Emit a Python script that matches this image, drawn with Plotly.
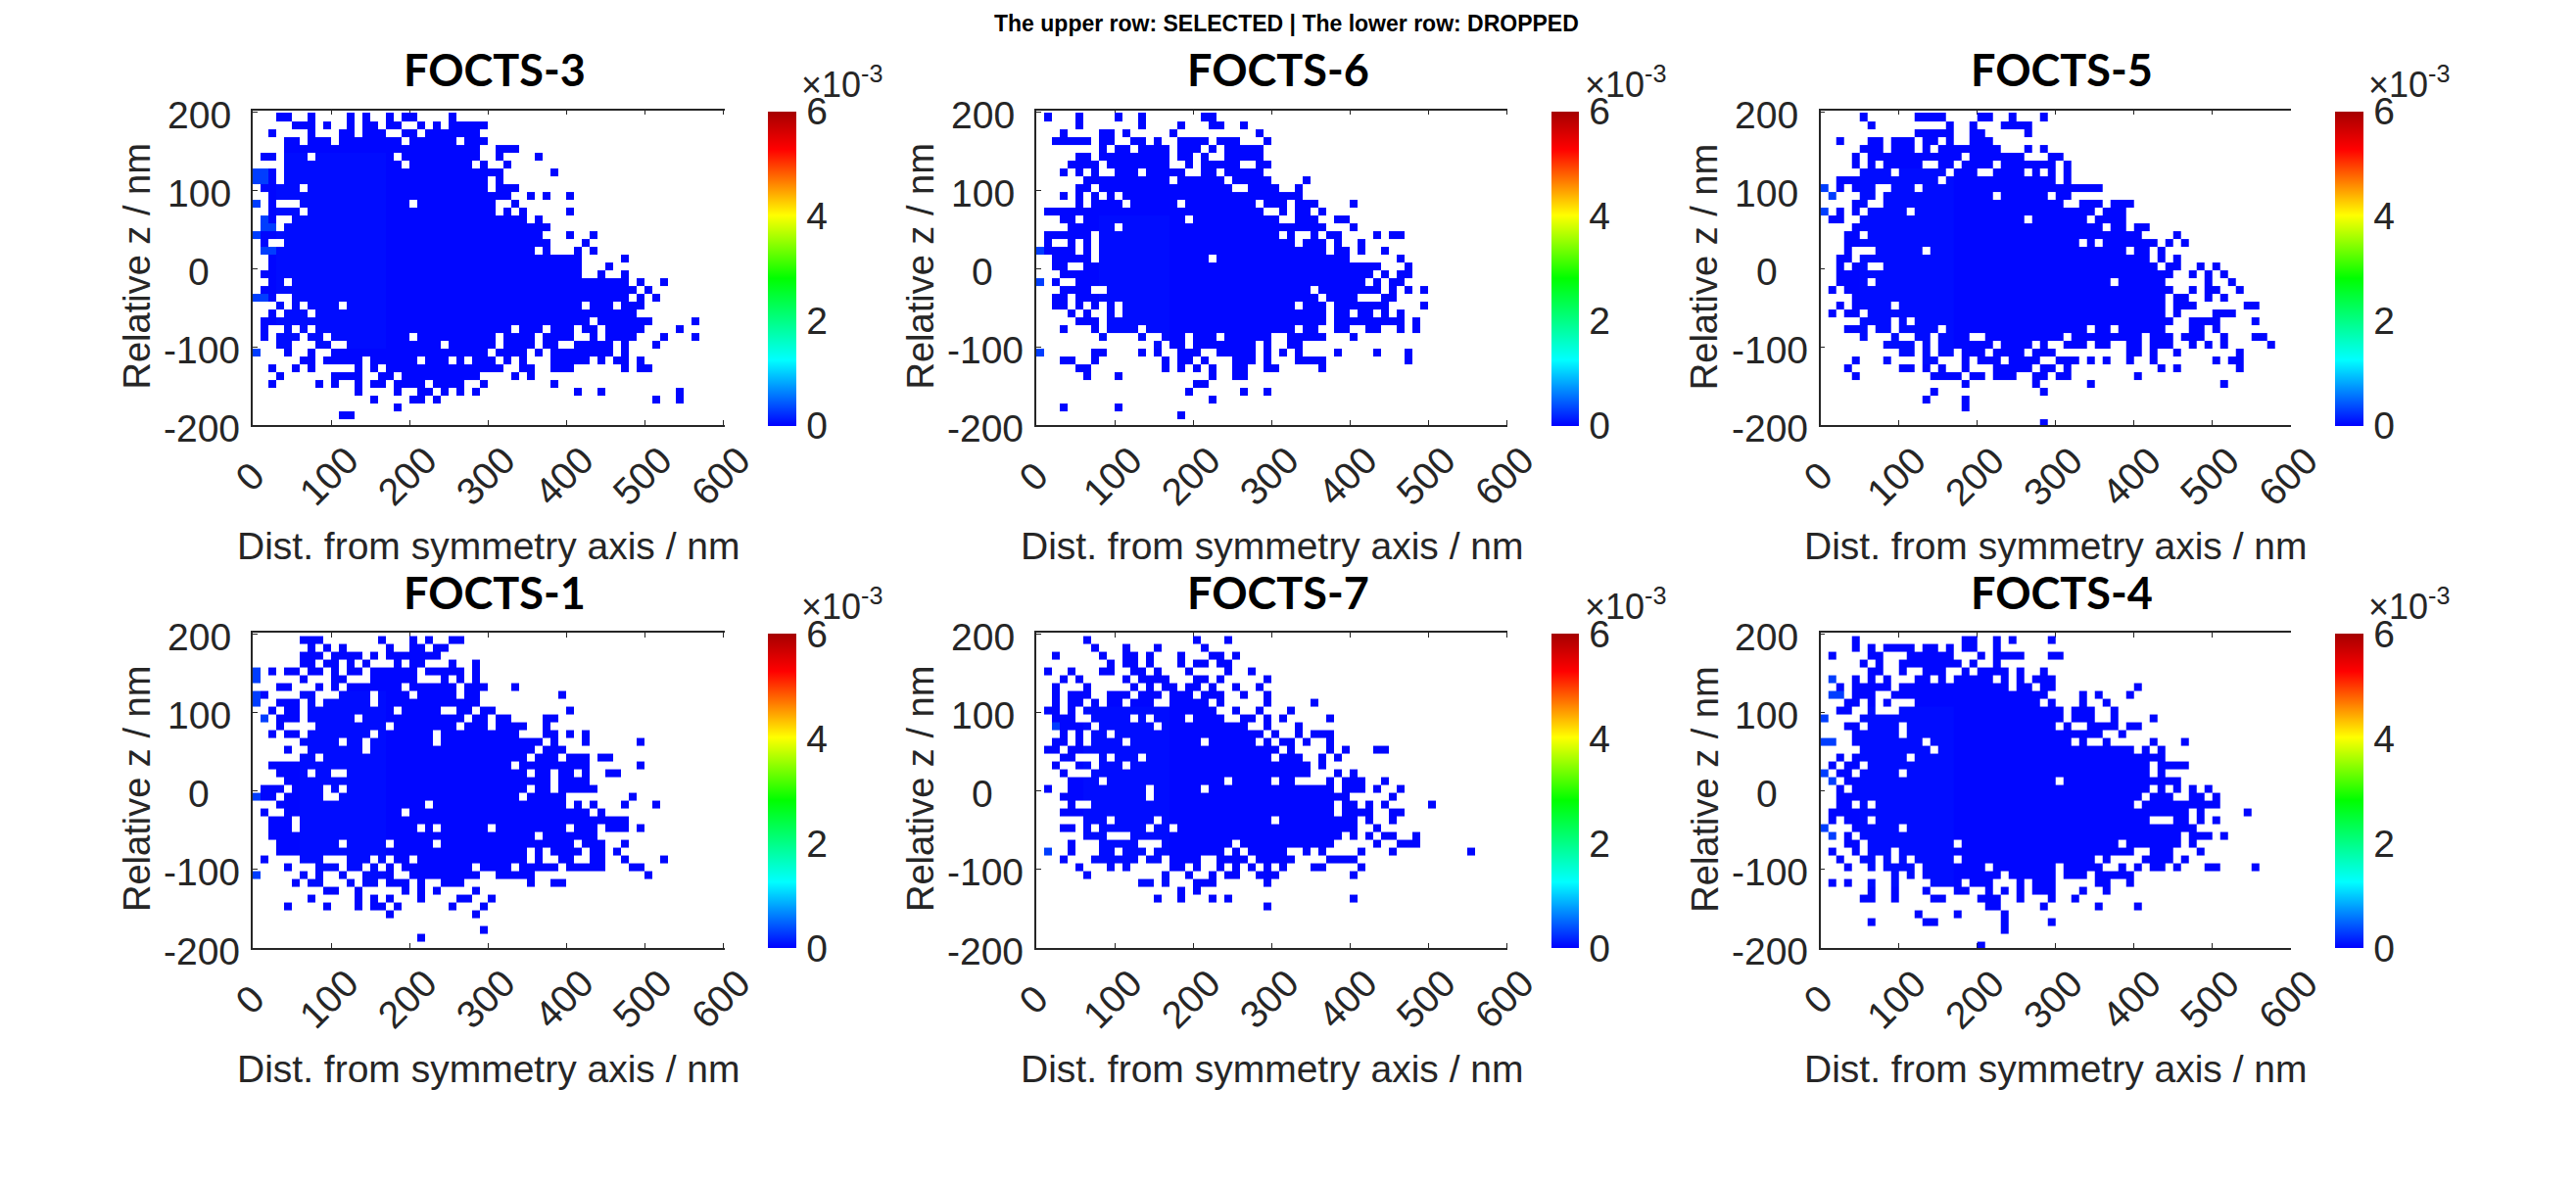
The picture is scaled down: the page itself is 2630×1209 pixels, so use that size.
import numpy as np
import plotly.graph_objects as go

# ---------- data: occupied bins, one string per row from the top (row 0 is the clipped top bin)
TITLES = ["FOCTS-3", "FOCTS-6", "FOCTS-5", "FOCTS-1", "FOCTS-7", "FOCTS-4"]
SUPTITLE = "The upper row: SELECTED | The lower row: DROPPED"
X_LABEL = "Dist. from symmetry axis / nm"
Y_LABEL = "Relative z / nm"
X_TICKS = [0, 100, 200, 300, 400, 500, 600]
Y_TICKS = [200, 100, 0, -100, -200]
CB_TICKS = [0, 2, 4, 6]

FOCTS3 = [
"3-4 7 12 14 17 19-20 25",
"3-4 7 12 14 17 19-20 25",
"5-7 9 12 14-15 17-18 21 23 25-29",
"2 7 11-12 14-16 19-20 22-28",
"4-5 7-9 11-18 20-25 27-29",
"4-28 31-33",
"1-2 4-6 8-17 19-28 31 36",
"4-18 20-27 29 32",
"0-2 4-31 38",
"0-2 4-29 31",
"1-5 7-29 31-33",
"2-32 35 37 40",
"0 2 6-19 21-30 33",
"2-5 7-30 32 34 40",
"1-2 5-34 36",
"1-2 4-37",
"0-36 40 43",
"1 4-37 42",
"1-35 37 41 43",
"2-41 47",
"2-41 45",
"1-41 44 47",
"2-3 5-47 49 52",
"1-48 50",
"0-2 5-47 49 51",
"3 5 7-10 12-41 43-45 47-49",
"2 4-6 8-48",
"1-42 44-50 56",
"1 4 6 8-32 34-36 38-40 42-43 45-49 54",
"1 3-5 7-8 10-19 21-30 32-35 37-40 43 45-48 52 56",
"3-4 8-9 12-23 25-30 32-35 37-38 41-45 47 51",
"0 4 7 10-29 31-34 36 38-45 47",
"6-7 9-13 15-20 22-24 26 28-30 32 34 38-42 44 46-47 49",
"2 5 7 13 15 17-31 34-35 38-40 47 49-50",
"3 10-13 16-17 19-28 33 35",
"2 8 10 13 15-16 18-21 23-26 29 38",
"13 18 21-22 24 26 28 41 44 54",
"15 20-21 23 51 54",
"18",
"11-12",
"",
]
FOCTS6 = [
"1 5 10 13 21-22",
"1 5 10 13 21-22",
"5 13 18 22-23 26",
"3 8-9 11 17 28",
"2-6 8-9 12-13 15 18-21 23-25 29",
"8 10-11 13-16 18-20 22 24-28",
"5-6 8-16 18-19 21 24-28",
"4-7 9-16 19 21-25 28-29",
"3 5 7 10-12 14-18 21-22 24-28",
"6-16 18-23 25-29 34",
"5-6 8-24 27-30 33",
"3 5 7 9 11-33",
"5 7-10 12-17 19-27 29-31 33-35 40",
"1-28 31 33-34 36",
"3-4 6-18 20-30 33-35 38-39",
"4-9 11-36 40",
"1-6 8-30 32 35 37-38 43 45-46",
"1 4 6 8-32 34-36 38 41",
"0-4 6 8-36 38-39 41 44",
"2-6 8-21 23-39 46",
"2-3 6-43 47",
"3-42 44 46-47",
"0 2 5-41 43 45-46",
"3-6 9-34 36-43 45 47 49",
"2-3 5-35 37-40 44-45",
"2-3 5 7 9 11-32 34-36 38-44 49",
"4 6 9 11-36 38-39 41-42 44 46",
"5-7 9-36 38-46 48",
"3 7 9-12 14-32 34-35 38-39 42-43 46 48",
"8 13 16-18 20-22 24-29 32-36 40",
"15 17-18 20-27 29 32-33",
"0 7-8 13 15 18-20 23-27 29 31 33 38 43 47",
"3-4 7 16 18-19 21 25-27 29 33-36 47",
"5-6 16 18 20 22 25-26 29-30 36",
"6 10 22 25-26",
"20-21",
"19 26 29",
"22",
"3 10",
"18",
"",
]
FOCTS5 = [
"5 12-15 20-21 24 28",
"5 12-15 20-21 24 28",
"6 16 19 23-26",
"12-16 19-20 26",
"2 6-7 9-11 13-14 16 19-21",
"5-7 9-11 13 15-22 26 28",
"4 6-17 19-25 29-30",
"4 6 8-12 15-16 18-21 23-29 31",
"5-8 10-15 17-19 22-25 27 29 31",
"2-14 16-29 31",
"0 2 4-6 9-11 13-35",
"1 5-6 8-21 23-28 30-31",
"4-5 8-30 33-35 37-39",
"0 2 4 6-10 12-34 36-38",
"1-2 5-25 27-33 35-38",
"4-35 37-38 40-41",
"3-4 6-40 45",
"3-32 34 36-42 44 46",
"3 7-12 14-38 40-41 43",
"2-3 5-41 43 45",
"2 4-5 8-42 44-45 48 50",
"2-44 47 49 51",
"2-5 7-36 38-43 49 52",
"1 3-44 47 49-50 53",
"4-43 45-46 49 51",
"2 4-8 10-43 45-47 54-55",
"1 3-4 6-43 45 50-52",
"5-8 10 12-44 47-50 55",
"3-5 7-8 10-14 16-33 35-36 38-43 47-48 50",
"5 9 12-13 15-18 21-30 32-40 42-44 46-48 51 55-56",
"8-11 13 15-21 23-26 28 31-33 35-36 39-40 42-44 47 49 51 57",
"10-11 13 15-16 18-20 22-25 27-29 39-40 42 45 53",
"4 8 13-14 18 20-22 24-27 30-32 34 36 39 42 50 52-53",
"3 10-11 13 15 18 22-26 28-29 31 43 45 53",
"4 14-17 19-20 22-24 27-28 30-31 40",
"18 27 34 51",
"14 28",
"13 18",
"18",
"",
"28",
]
FOCTS1 = [
"",
"6-8 16 20 22 25-26",
"7 9 11 17 20-21 23-24",
"6-8 10-13 15 17-23",
"6-7 9-10 12 14 18 20-21 25 28",
"0 2 4-5 7-8 10 12-13 15-20 22-26 28",
"0 6 10-11 15-20 24 26 28",
"3-4 8 10 12-18 20-25 27-29 33",
"0-1 6-7 11-14 16-19 21-25 27-28 39",
"0 3-5 7 9-14 16-28",
"2 4-5 7-17 19-23 26-27 29-30 40",
"1 3-5 7-12 14-26 28-29 31-32 37-38",
"3 8-16 18-25 27-29 31-34 37",
"2 4-5 7-14 16-22 24-33 37-38 40 42",
"6-10 12-13 15-22 24-36 38 42 49",
"4 7-13 15-35 37-39",
"6-7 9-34 36-38 40-42 44-45",
"2-32 34-42 49",
"3-6 8-9 12-34 36-37 39-40 42 45-46",
"4-37 39-42",
"1-3 5-8 10 12-34 36-37 39-43",
"0-2 4-8 11-33 35-39 48",
"3-21 23-39 41 43 47 51",
"1 4-18 20-42 44",
"2-4 6-47",
"2-4 6-20 22 24-29 31-39 41-43 45-47 49",
"2-35 37-43",
"3-10 12-16 18-22 24-40 42-44 47",
"3-34 36 38-41 43-44 46",
"1 6-8 12-14 16 18-19 21-34 36 39-40 43-44 47 52",
"4 8-10 12-13 15 17 19-27 29-32 34-38 40-44 48-49",
"0 6 8 11 14-17 20-28 31-35 50",
"5 7-8 12 14-15 17-19 21 24-26 35 38-39",
"9-10 13 19 21 23 28",
"7 13 15 17 21 26-27 30",
"4 9 13 15-16 18 25 29",
"17 28",
"",
"29",
"21",
"",
]
FOCTS7 = [
"",
"6 20 24",
"7 11 15 21",
"2 8 11-12 14 18 22-23 25",
"9 11-12 14 18 20-21 23-24",
"1 4 8-9 12-13 15 19 24 27",
"3 5 11 13-16 20-21 23 29",
"2 6 12 14 16-17 19-20 22 25 28",
"2 4-6 9-11 13-15 17-19 21-23 26 29",
"2 4-5 7 9-10 12-14 17-21 23 29 35",
"1-2 4 6-22 25 28 32",
"2-4 7-11 13 15-18 20-23 26-27 29 31 37",
"2-6 8-14 16-26 29 33",
"3 5 7-8 10-28 30 33 35-37",
"2-3 5 7-10 12-20 22-27 29 31-32 34 37",
"1-2 4-30 32 37 39 43-44",
"3-4 8 10-12 14-29 31-33 36 38",
"2 5-6 8-10 12-34 36",
"3 7-34 38 40",
"4-7 9-23 25-29 31-32 37 39-41 44",
"1 4-13 15-20 22-37 39-41 43 46",
"3-13 15-39 45",
"4 7-37 39-40 42 44 50",
"3-37 39-42 45-46",
"6-8 10-14 16-29 31-40 42 45",
"3-4 6 8-13 15-16 18-40 43",
"6-8 12-38 40 42 44-45 48",
"4 8-12 16-23 24 26-37 43 46-48",
"1 4 8-9 11-13 15-23 25 27-31 34 36 41 45 55",
"3 7-12 14-15 17-20 23-26 28-32 37-40",
"5 9 11 17-18 20 23 25 27 29 31 35-36 41",
"6 16 19 22 24-25 28-30 40",
"13-14 16 20-22 29",
"18 20",
"15 18 22 24 40",
"29",
"", "", "", "", "",
]
FOCTS4 = [
"",
"4 18-19 22 24 29",
"4 6 8-11 13-14 16 18-19 22",
"1 6-7 11-16 20 22-25 29-30",
"5 7 10-17 19 22",
"6-7 10 13-15 18 20-23 25 28",
"1 4 6 8 12-13 15 17-21 23 25 27-29",
"2 4-8 10-23 25-26 28-29 40",
"1-2 4-6 9-28 33 35 39",
"3-4 6 8 12-27 29 33 36",
"2-3 6 10-13 14-30 32-34 37",
"0 5-30 32-34 37 42",
"3-4 6-9 11-29 31 34-37 39-40",
"4-9 11-35 38",
"0-1 4-12 14-31 33 36 42 46",
"5-13 15-39 41 43",
"2 4-10 12-43",
"1 3-4 6-41 43-46",
"0 2-3 5-9 11-41 43",
"1 3-29 31-45",
"2 4-41 43 45 47 49",
"2-40 42-44 47-48 50",
"2-3 5 7-39 41-50",
"1-46 48 54",
"1 3-5 7-41 45-46 48 50",
"0 4-9 11-47",
"1 3 5-45 47-49 51",
"3-4 6-16 18-37 39-45 47",
"1 4 6-8 10-39 42-44 48",
"2 5-6 8 10 12-16 18-34 36 41-44 46",
"3 6 8-11 13-20 22-29 31-35 38 40 42-43 45 49-50 55",
"9 11 13-22 24-29 31-33 35-39",
"1 3 6 9 14-17 19-21 25 27-29 35-36 39",
"6 9 13 17-18 21 23 25 27-29 33 36",
"5-6 9 14-15 20-22 25 29 32",
"21-22 28 35 40",
"12 17 23",
"6 13-14 23 29",
"23",
"",
"20",
]

# slightly lighter cells at the left edge of each cloud: (row, column)
LIGHT3 = [(8,0),(8,1),(9,0),(9,1),(12,0),(14,1),(15,1),(15,2),(16,0),(18,1),(18,2),(24,0),(24,1),(31,0)]
LIGHT6 = [(18,0),(22,0),(31,0)]
LIGHT5 = [(10,0),(11,1),(13,0)]
LIGHT1 = [(5,0),(6,0),(8,0),(9,0),(11,1),(21,0),(31,0)]
LIGHT7 = [(12,2),(28,1)]
LIGHT4 = [(6,1),(8,1),(8,2),(11,0),(14,0),(14,1),(18,0),(19,1),(25,0),(26,1)]
# rows and columns of the mildly raised part of each cloud (first row, last row, first col, last col)
RAISED = [(6,30,3,16),(14,30,8,16),(8,32,5,16),(8,32,6,16),(10,32,6,16),(10,32,5,16)]
PANELS = [FOCTS3, FOCTS6, FOCTS5, FOCTS1, FOCTS7, FOCTS4]
LIGHTS = [LIGHT3, LIGHT6, LIGHT5, LIGHT1, LIGHT7, LIGHT4]

LEVEL_BASE, LEVEL_RAISED, LEVEL_LIGHT = 0.03, 0.06, 0.3
BIN = 10.0
# row edges in nm, top to bottom: blank strip, thin clipped row, then the 40 regular rows
Y_EDGES_TOP = [207.5, 199.0]
Y_FIRST_EDGE = 197.5

# ---------- geometry (px) of the 2630 x 1209 page
W, H = 2630, 1209
COLS = [(258, 740), (1058, 1539), (1858.7, 2339)]
ROWS = [(112.5, 434), (646, 968)]
BARS = [(784, 813), (1584, 1612), (2384, 2413)]
TXT = "#262626"
SANS = "Liberation Sans, Arial, sans-serif"
COLORSCALE = [[0, "rgb(0,0,255)"], [0.21, "rgb(0,255,255)"], [0.47, "rgb(0,255,0)"],
              [0.67, "rgb(255,255,0)"], [0.88, "rgb(255,0,0)"], [1, "rgb(165,0,0)"]]


def build(rows, light, raised):
    z = np.full((42, 60), np.nan)   # row 0 of z is the blank strip above the clipped row
    for t, s in enumerate(rows):
        for part in s.split():
            a, _, b = part.partition("-")
            z[t + 1, int(a):int(b or a) + 1] = LEVEL_BASE
    r0, r1, c0, c1 = raised
    sub = z[r0 + 1:r1 + 2, c0:c1 + 1]
    sub[~np.isnan(sub)] = LEVEL_RAISED
    for t, k in light:
        z[t + 1, k] = LEVEL_LIGHT
    return z


x_edges = BIN * np.arange(61)
y_edges = np.array(Y_EDGES_TOP + list(Y_FIRST_EDGE - BIN * np.arange(41)))[::-1]

fig = go.Figure()
layout = {}
ann = []
for i, name in enumerate(TITLES):
    c, r = i % 3, i // 3
    (x0, x1), (y0, y1), (b0, b1) = COLS[c], ROWS[r], BARS[c]
    sfx = "" if i == 0 else str(i + 1)
    z = build(PANELS[i], LIGHTS[i], RAISED[i])[::-1]
    fig.add_trace(go.Heatmap(
        z=z, x=x_edges, y=y_edges, xaxis="x" + sfx, yaxis="y" + sfx,
        zmin=0, zmax=6, colorscale=COLORSCALE, hoverongaps=False,
        colorbar=dict(
            x=b0 / W, xanchor="left", xpad=0, thickness=b1 - b0, thicknessmode="pixels",
            y=1 - (y0 + 1) / H, yanchor="top", ypad=0, len=(y1 - y0 - 1) / H, lenmode="fraction",
            outlinewidth=0, tickvals=CB_TICKS, ticktext=[str(v) for v in CB_TICKS],
            ticks="outside", ticklen=3, tickcolor="rgba(0,0,0,0)",
            tickfont=dict(family=SANS, size=39, color=TXT)),
    ))
    axis_common = dict(showgrid=False, zeroline=False, showline=True, linecolor=TXT, linewidth=1.5,
                       ticks="inside", ticklen=5, tickwidth=1, tickcolor=TXT,
                       showticklabels=False, layer="below traces")
    layout["xaxis" + sfx] = dict(axis_common, domain=[x0 / W, x1 / W], range=[0, (x1 - x0) / 0.8],
                                 anchor="y" + sfx, tickvals=X_TICKS, mirror="ticks")
    layout["yaxis" + sfx] = dict(axis_common, domain=[1 - y1 / H, 1 - y0 / H], range=[-200, 201.9],
                                 anchor="x" + sfx, tickvals=Y_TICKS)
    xr, yr = "x" + sfx, "y" + sfx
    for v in X_TICKS:
        ann.append(dict(text=str(v), x=v, y=-200, xref=xr, yref=yr, showarrow=False, textangle=-45,
                        xanchor="center", yanchor="middle", xshift=-3, yshift=-52,
                        font=dict(family=SANS, size=39, color=TXT)))
    for v in Y_TICKS:
        ann.append(dict(text=str(v), x=0, y=v, xref=xr, yref=yr, showarrow=False,
                        xanchor="center", yanchor="middle", xshift=-55 if v >= 0 else -52, yshift=-3,
                        font=dict(family=SANS, size=39, color=TXT)))
    ann.append(dict(text=X_LABEL, x=(x0 + x1) / 2 / W, y=1 - (y1 + 123) / H, xref="paper", yref="paper",
                    showarrow=False, xanchor="center", yanchor="middle",
                    font=dict(family=SANS, size=39, color=TXT)))
    ann.append(dict(text=Y_LABEL, x=(x0 - 118) / W, y=1 - (y0 + 160) / H, xref="paper", yref="paper",
                    showarrow=False, textangle=-90, xanchor="center", yanchor="middle",
                    font=dict(family=SANS, size=38, color=TXT)))
    ann.append(dict(text="<b>%s</b>" % name, x=((x0 + x1) / 2 + 6) / W, y=1 - (y0 - 41) / H,
                    xref="paper", yref="paper", showarrow=False, xanchor="center", yanchor="middle",
                    font=dict(family="Lato, sans-serif", size=45, color="black")))
    ann.append(dict(text="×10<sup>-3</sup>", x=(b0 + 32) / W, y=1 - (y0 - 29) / H,
                    xref="paper", yref="paper", showarrow=False, xanchor="left", yanchor="middle",
                    font=dict(family=SANS, size=36, color=TXT)))

ann.append(dict(text="<b>%s</b>" % SUPTITLE, x=1313 / W, y=1 - 24 / H, xref="paper", yref="paper",
                showarrow=False, xanchor="center", yanchor="middle",
                font=dict(family=SANS, size=23, color="black")))

fig.update_layout(width=W, height=H, autosize=False, margin=dict(l=0, r=0, t=0, b=0, pad=0),
                  paper_bgcolor="white", plot_bgcolor="white", showlegend=False,
                  annotations=ann, **layout)
fig.write_html("out.html", post_script="document.body.style.margin='0';",
               config={"displayModeBar": False})
